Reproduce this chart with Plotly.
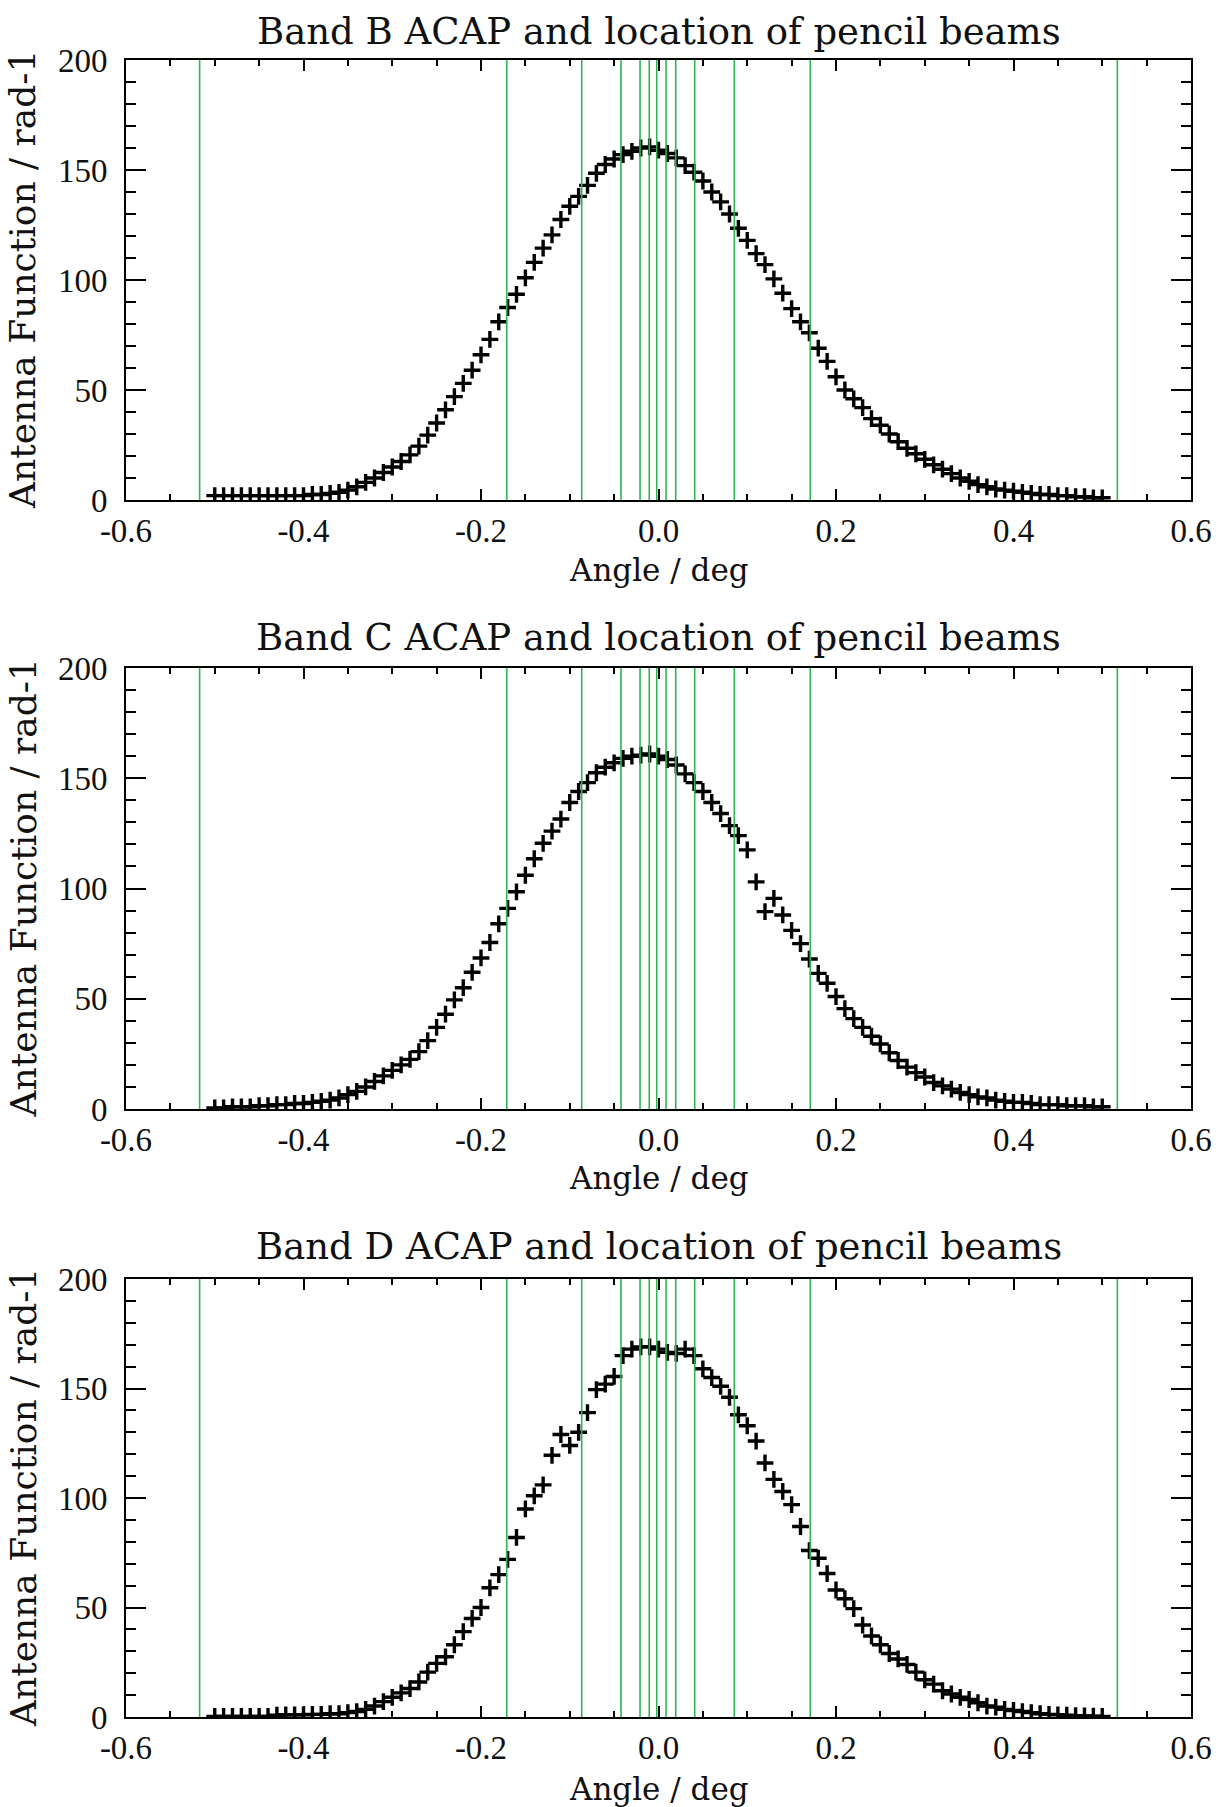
import plotly.graph_objects as go

# ---------------- data ----------------
angles = [round(-0.50 + 0.01 * i, 2) for i in range(101)]

band_b = [2, 2, 2, 2, 2, 2, 2, 2, 2, 2,
          2, 2.5, 2.5, 3, 3.5,
          4.5, 6, 8, 10, 12.5, 15, 17.5, 20.5, 24.5, 29.5,
          35, 41, 47, 53, 59, 66, 73, 81, 87.5, 93.5,
          101, 108, 114.5, 120.5, 127.5, 133.5, 138, 143, 148.5, 152.5,
          155, 157, 158.5, 160, 160.5,
          159, 157.5, 155.5, 152, 149, 145, 140, 135.5, 130, 123.5,
          118, 112, 107, 100.5, 94, 87, 81, 76, 69, 63,
          56, 50, 46, 42, 37, 34, 30, 26.5, 23.5, 21,
          18.5, 16, 14, 12, 10, 8.5, 7, 6, 5, 4.5,
          4, 3.5, 3, 2.5, 2.5, 2, 2, 1.5, 1.5, 1, 1]

band_c = [0.5, 0.5, 1, 1, 1, 1.5, 1.5, 2, 2, 2.5,
          2.5, 3, 3.5, 4, 5,
          6.5, 8, 10, 12.5, 15, 17.5, 20, 22.5, 26, 31,
          37, 43, 49.5, 55, 62, 68.5, 75.5, 84, 91, 98.5,
          106, 113.5, 120.5, 126, 131.5, 139, 144, 148, 152.5, 155,
          157, 159, 160, 160.5, 161,
          160, 158.5, 156, 152, 148, 144, 139, 134, 128.5, 124,
          117.5, 103, 89.5, 95.5, 88, 81, 75, 68, 61.5, 57,
          51, 45.5, 41, 37, 33, 29.5, 25.5, 22, 19, 16.5,
          14.5, 12, 10.5, 9, 7.5, 6.5, 5.5, 5, 4, 3.5,
          3, 3, 2.5, 2, 2, 2, 1.5, 1.5, 1.5, 1, 1]

band_d = [0.3, 0.3, 0.3, 0.3, 0.3, 0.3, 0.3,
          0.8, 1, 1, 1, 1.2, 1.2, 1.5, 1.5,
          2, 2.5, 3.5, 5, 7, 9, 11, 13, 16, 20.5,
          24.5, 27.5, 33, 39, 45, 50, 59, 65, 72, 82,
          95, 101, 106, 119.5, 129, 124, 130, 139, 149.5, 152,
          155.5, 165, 168, 169, 169,
          168, 166.5, 166, 168, 165, 159, 155, 151, 146, 138,
          133, 126, 116, 108.5, 103, 97, 87, 76, 72.5, 65.5,
          58, 54, 49.5, 42, 37, 33, 29, 26.5, 24, 20.5,
          17, 15, 12, 10.5, 9, 8, 6.5, 5, 4.5, 3.5,
          3, 2.5, 2, 1.5, 1.2, 1, 0.8, 0.6, 0.5, 0.4, 0.3]

beam_positions = [-0.517, -0.171, -0.0865, -0.0423, -0.0208, -0.0104, -0.002,
                  0.0085, 0.0194, 0.0408, 0.0854, 0.171, 0.517]

panel_titles = ["Band B ACAP and location of pencil beams",
                "Band C ACAP and location of pencil beams",
                "Band D ACAP and location of pencil beams"]
x_tickvals = [-0.6, -0.4, -0.2, 0.0, 0.2, 0.4, 0.6]
x_ticktext = ["-0.6", "-0.4", "-0.2", "0.0", "0.2", "0.4", "0.6"]
y_tickvals = [0, 50, 100, 150, 200]
y_ticktext = ["0", "50", "100", "150", "200"]
y_range = [0, 200]
x_range = [-0.6, 0.6]
x_title = "Angle / deg"
y_title = "Antenna Function / rad-1"

# ---------------- figure ----------------
series = [band_b, band_c, band_d]
domains = [[0.73446, 1.0], [0.36693, 0.63307], [0.0, 0.26433]]
title_y = [1.0169, 0.65118, 0.28365]
xtitle_y = [0.6922, 0.3250, -0.0434]

fig = go.Figure()

TICK_FONT = dict(family="Liberation Serif", size=33, color="#111111")
GREEN = "#2fb455"

for i, vals in enumerate(series):
    xa = "x" if i == 0 else f"x{i+1}"
    ya = "y" if i == 0 else f"y{i+1}"
    fig.add_trace(go.Scatter(
        x=angles, y=vals, mode="markers", xaxis=xa, yaxis=ya,
        marker=dict(symbol="cross-thin", size=12, color="black",
                    line=dict(width=3.4, color="black")),
        showlegend=False, hoverinfo="x+y"))
    lx, ly = [], []
    for b in beam_positions:
        lx += [b, b, None]
        ly += [y_range[0], y_range[1], None]
    fig.add_trace(go.Scatter(
        x=lx, y=ly, mode="lines", xaxis=xa, yaxis=ya,
        line=dict(color=GREEN, width=1.6),
        showlegend=False, hoverinfo="skip"))

    sfx = "" if i == 0 else str(i + 1)
    fig.layout["xaxis" + sfx] = dict(
        domain=[0, 1], anchor=ya, range=x_range,
        tickmode="array", tickvals=x_tickvals, ticktext=x_ticktext,
        ticks="inside", ticklen=11, tickwidth=1.5, tickcolor="black",
        minor=dict(tickmode="linear", tick0=0, dtick=0.05, ticks="inside",
                   ticklen=6, tickwidth=1.5, tickcolor="black"),
        showline=True, linecolor="black", linewidth=2, mirror="allticks",
        showgrid=False, zeroline=False, tickfont=TICK_FONT,
        ticklabelstandoff=0)
    fig.layout["yaxis" + sfx] = dict(
        domain=domains[i], anchor=xa, range=y_range,
        tickmode="array", tickvals=y_tickvals, ticktext=y_ticktext,
        ticks="inside", ticklen=20, tickwidth=1.5, tickcolor="black",
        minor=dict(tickmode="linear", tick0=0, dtick=10, ticks="inside",
                   ticklen=10, tickwidth=1.5, tickcolor="black"),
        showline=True, linecolor="black", linewidth=2, mirror="allticks",
        showgrid=False, zeroline=False, tickfont=TICK_FONT,
        ticklabelstandoff=10)

    fig.add_annotation(text=panel_titles[i], xref="paper", yref="paper",
                       x=0.5, y=title_y[i], xanchor="center", yanchor="middle",
                       showarrow=False,
                       font=dict(family="DejaVu Serif", size=37, color="#111111"))
    fig.add_annotation(text=x_title, xref="paper", yref="paper",
                       x=0.5, y=xtitle_y[i], xanchor="center", yanchor="middle",
                       showarrow=False,
                       font=dict(family="DejaVu Serif", size=31, color="#111111"))
    fig.add_annotation(text=y_title, xref="paper", yref="paper",
                       x=-0.0967, y=(domains[i][0] + domains[i][1]) / 2,
                       xanchor="center", yanchor="middle", textangle=-90,
                       showarrow=False,
                       font=dict(family="DejaVu Serif", size=36, color="#111111"))

fig.update_layout(
    width=1225, height=1807,
    margin=dict(l=126, r=34, t=60, b=90),
    paper_bgcolor="white", plot_bgcolor="white",
    showlegend=False,
)

fig.write_html("out.html")
